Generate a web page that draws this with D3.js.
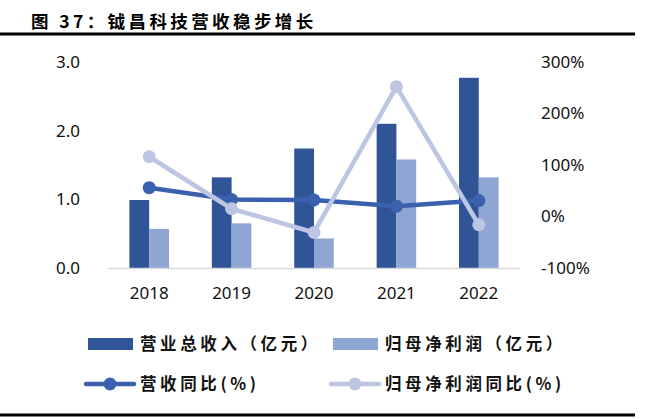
<!DOCTYPE html>
<html><head><meta charset="utf-8">
<script src="https://cdn.jsdelivr.net/npm/d3@7"></script>
<style>body{margin:0;background:#fff;} svg{display:block;}</style>
</head><body>
<script>
const categories = ["2018","2019","2020","2021","2022"];
const revenue = [0.99, 1.32, 1.74, 2.10, 2.77];
const profit = [0.57, 0.65, 0.43, 1.58, 1.32];
const revenueYoY = [56, 33, 32, 20, 31];
const profitYoY = [116, 15, -31, 252, -16];
const leftTicks = [0, 1, 2, 3];
const rightTicks = [-100, 0, 100, 200, 300];
const title = "图 37：钺昌科技营收稳步增长";
const legendLabels = ["营业总收入（亿元）","归母净利润（亿元）","营收同比(%)","归母净利润同比(%)"];

const W = 654, H = 419;
const cDark = "#2F5597", cLight = "#8FA5D4", cLine1 = "#3A60AE", cLine2 = "#BCC6E3";
const svg = d3.select("body").append("svg").attr("width", W).attr("height", H);
const font = "'Noto Sans', 'Noto Sans CJK SC', sans-serif";
const cjk = "'Noto Sans CJK SC', sans-serif";

// title
svg.append("text").attr("x", 31).attr("y", 28).text(title)
  .attr("font-family", cjk).attr("font-weight", "bold").attr("font-size", 17.5)
  .attr("letter-spacing", 3.4).attr("fill", "#000");
svg.append("line").attr("x1", 0).attr("x2", 635).attr("y1", 34).attr("y2", 34)
  .attr("stroke", "#000").attr("stroke-width", 3);
svg.append("line").attr("x1", 0).attr("x2", 635).attr("y1", 415).attr("y2", 415)
  .attr("stroke", "#000").attr("stroke-width", 3);

const x = d3.scaleBand().domain(categories).range([108, 520]).paddingInner(0.52).paddingOuter(0.26);
const yL = d3.scaleLinear().domain([0, 3]).range([268, 62]);
const yR = d3.scaleLinear().domain([-100, 300]).range([268, 62]);
const bw = x.bandwidth() / 2;
const cx = d => x(d) + x.bandwidth() / 2;

// bars
svg.append("g").selectAll("rect").data(categories).join("rect")
  .attr("x", d => x(d)).attr("width", bw)
  .attr("y", (d, i) => yL(revenue[i])).attr("height", (d, i) => yL(0) - yL(revenue[i]))
  .attr("fill", cDark);
svg.append("g").selectAll("rect").data(categories).join("rect")
  .attr("x", d => x(d) + bw).attr("width", bw)
  .attr("y", (d, i) => yL(profit[i])).attr("height", (d, i) => yL(0) - yL(profit[i]))
  .attr("fill", cLight);

// baseline
svg.append("line").attr("x1", 108).attr("x2", 520).attr("y1", yL(0)+0.5).attr("y2", yL(0)+0.5)
  .attr("stroke", "#d9d9d9").attr("stroke-width", 1.5);

// axes
const axL = svg.append("g").attr("transform", "translate(80,0)")
  .call(d3.axisLeft(yL).tickValues(leftTicks).tickFormat(d3.format(".1f")).tickSize(0).tickPadding(0));
const axR = svg.append("g").attr("transform", "translate(541,0)")
  .call(d3.axisRight(yR).tickValues(rightTicks).tickFormat(d => d + "%").tickSize(0).tickPadding(0));
const axX = svg.append("g").attr("transform", "translate(0,283)")
  .call(d3.axisBottom(x).tickSize(0).tickPadding(4));
[axL, axR, axX].forEach(a => {
  a.select(".domain").remove();
  a.selectAll("text").attr("font-family", font).attr("font-size", 17).attr("fill", "#111");
});
axX.selectAll("text").attr("dy", "0.71em");

// lines
const line = (vals) => d3.line().x((d, i) => cx(categories[i])).y(d => yR(d))(vals);
svg.append("path").attr("d", line(revenueYoY)).attr("fill", "none")
  .attr("stroke", cLine1).attr("stroke-width", 4.5).attr("stroke-linejoin", "round");
svg.append("g").selectAll("circle").data(revenueYoY).join("circle")
  .attr("cx", (d, i) => cx(categories[i])).attr("cy", d => yR(d)).attr("r", 6.5).attr("fill", cLine1);
svg.append("path").attr("d", line(profitYoY)).attr("fill", "none")
  .attr("stroke", cLine2).attr("stroke-width", 4.5).attr("stroke-linejoin", "round");
svg.append("g").selectAll("circle").data(profitYoY).join("circle")
  .attr("cx", (d, i) => cx(categories[i])).attr("cy", d => yR(d)).attr("r", 6.5).attr("fill", cLine2);

// legend
const lg = svg.append("g");
const items = [
  {type: "rect", c: cDark, x: 88, y: 344, label: legendLabels[0]},
  {type: "rect", c: cLight, x: 333, y: 344, label: legendLabels[1]},
  {type: "line", c: cLine1, x: 88, y: 384, label: legendLabels[2]},
  {type: "line", c: cLine2, x: 333, y: 384, label: legendLabels[3]},
];
items.forEach(it => {
  if (it.type === "rect") {
    lg.append("rect").attr("x", it.x).attr("y", it.y - 6).attr("width", 45).attr("height", 12).attr("fill", it.c);
  } else {
    lg.append("line").attr("x1", it.x - 2).attr("x2", it.x + 46).attr("y1", it.y).attr("y2", it.y)
      .attr("stroke", it.c).attr("stroke-width", 4.5).attr("stroke-linecap", "round");
    lg.append("circle").attr("cx", it.x + 22).attr("cy", it.y).attr("r", 6.5).attr("fill", it.c);
  }
  lg.append("text").attr("x", it.x + 52).attr("y", it.y).attr("dy", "0.36em").text(it.label)
    .attr("font-family", cjk).attr("font-weight", "bold").attr("font-size", 16.5)
    .attr("letter-spacing", 3.6).attr("fill", "#111");
});
</script>
</body></html>
